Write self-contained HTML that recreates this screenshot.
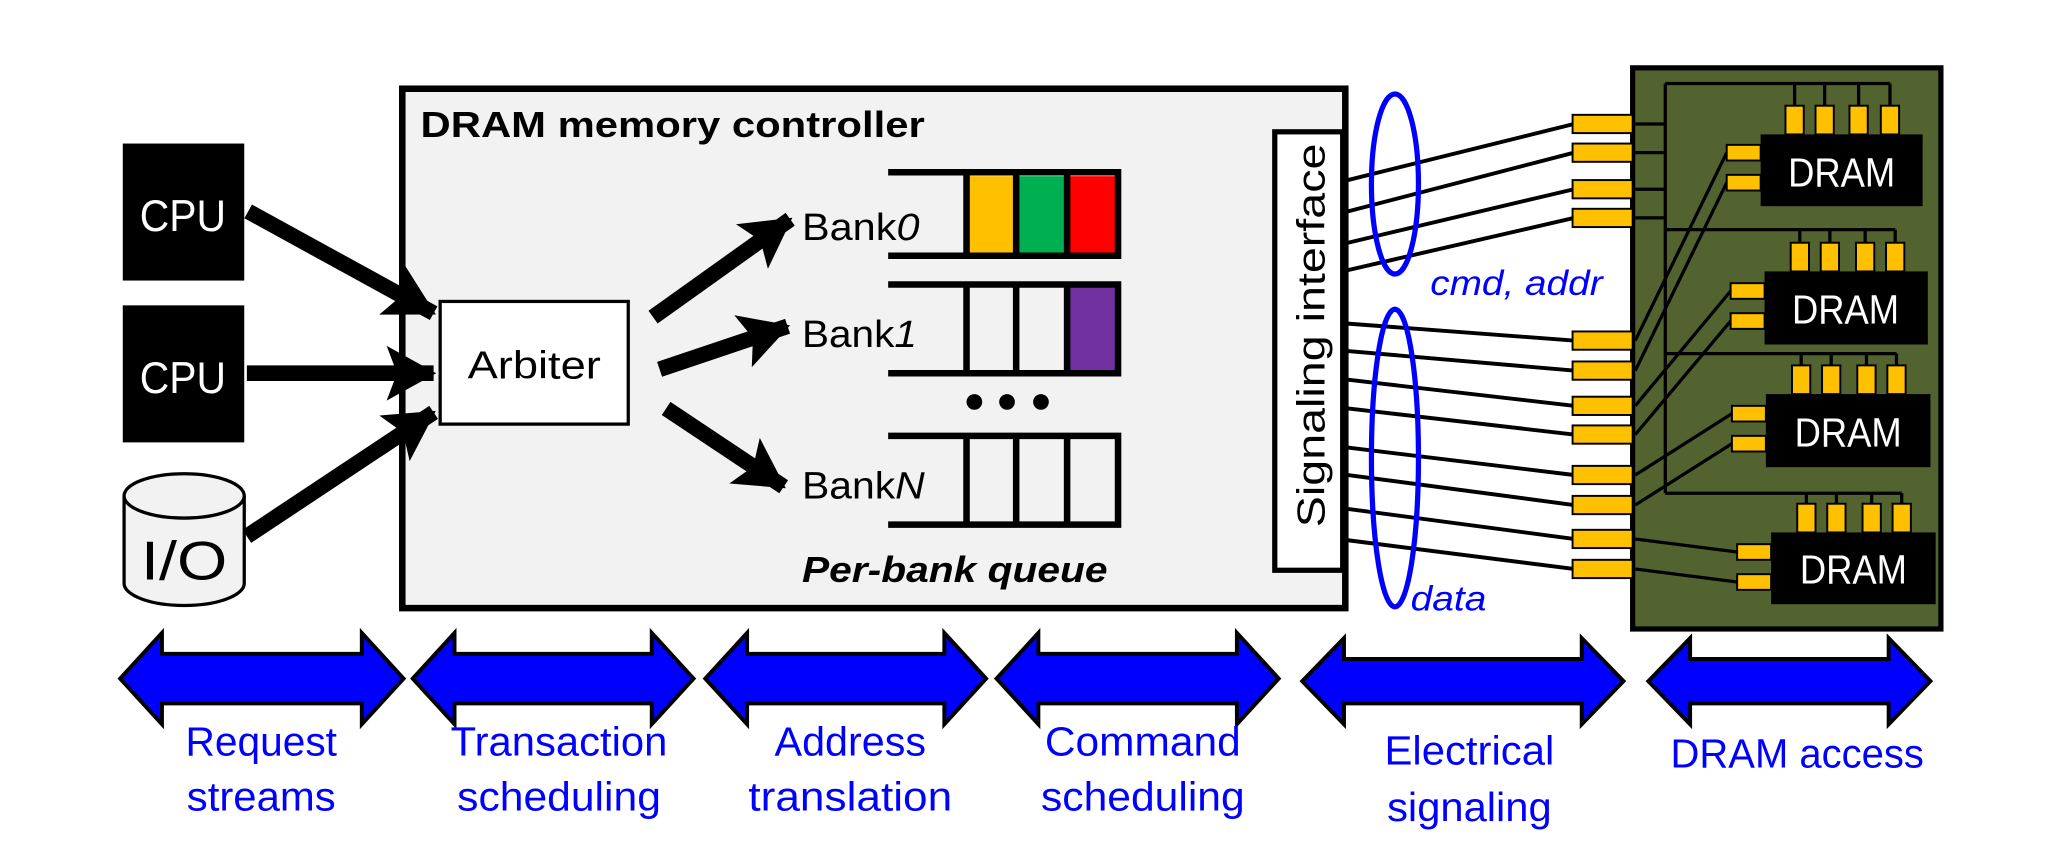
<!DOCTYPE html>
<html><head><meta charset="utf-8"><style>html,body{margin:0;padding:0;background:#fff}svg{display:block}</style></head>
<body>
<svg width="2048" height="843" viewBox="0 0 1568 646" preserveAspectRatio="none" xmlns="http://www.w3.org/2000/svg" font-family="Liberation Sans, sans-serif">
<defs>
<marker id="ah" markerUnits="userSpaceOnUse" markerWidth="40" markerHeight="42" refX="36" refY="21" orient="auto" viewBox="0 0 40 42">
<path d="M0,0 L38,21 L0,42 L8,21 Z" fill="#000"/>
</marker>
</defs>
<rect width="1568" height="646" fill="#fff"/>
<rect x="94" y="110" width="93" height="105" fill="#000"/>
<text x="140" y="177" font-size="34" fill="#fff" text-anchor="middle" textLength="66" lengthAdjust="spacingAndGlyphs">CPU</text>
<rect x="94" y="234" width="93" height="105" fill="#000"/>
<text x="140" y="301" font-size="34" fill="#fff" text-anchor="middle" textLength="66" lengthAdjust="spacingAndGlyphs">CPU</text>
<path d="M95,380 L95,447 A46,17 0 0 0 187,447 L187,380" fill="#f2f2f2" stroke="#000" stroke-width="2.5"/>
<ellipse cx="141" cy="380" rx="46" ry="17" fill="#f2f2f2" stroke="#000" stroke-width="2.5"/>
<text x="141" y="444" font-size="42" fill="#000" text-anchor="middle" textLength="66" lengthAdjust="spacingAndGlyphs">I/O</text>
<rect x="308" y="68" width="722" height="398" fill="#f2f2f2" stroke="#000" stroke-width="5"/>
<text x="322" y="105" font-size="28" font-weight="bold" textLength="386" lengthAdjust="spacingAndGlyphs">DRAM memory controller</text>
<rect x="337" y="231" width="144" height="94" fill="#fff" stroke="#000" stroke-width="2.5"/>
<text x="409" y="290" font-size="30" text-anchor="middle" textLength="102" lengthAdjust="spacingAndGlyphs">Arbiter</text>
<g stroke="#000" stroke-width="12" marker-end="url(#ah)">
<line x1="190" y1="162" x2="332" y2="240"/>
<line x1="189" y1="286" x2="332" y2="286"/>
<line x1="189" y1="411" x2="332" y2="316"/>
<line x1="500" y1="243" x2="605" y2="168"/>
<line x1="505" y1="283" x2="603" y2="250"/>
<line x1="510" y1="313" x2="600" y2="373"/>
</g>
<g font-size="29">
<text x="614" y="184" textLength="90" lengthAdjust="spacingAndGlyphs">Bank<tspan font-style="italic">0</tspan></text>
<text x="614" y="266" textLength="88" lengthAdjust="spacingAndGlyphs">Bank<tspan font-style="italic">1</tspan></text>
<text x="614" y="382" textLength="94" lengthAdjust="spacingAndGlyphs">Bank<tspan font-style="italic">N</tspan></text>
</g>
<rect x="740" y="135" width="36" height="60" fill="#ffc000"/>
<rect x="779" y="135" width="36" height="60" fill="#00b050"/>
<rect x="818" y="135" width="36" height="60" fill="#ff0000"/>
<rect x="818" y="220" width="36" height="64" fill="#7030a0"/>
<g stroke="#000" stroke-width="5" fill="none">
<path d="M680,132 H856 V196 H680"/>
<path d="M740,132 V196 M778,132 V196 M817,132 V196"/>
<path d="M680,218 H856 V286 H680"/>
<path d="M740,218 V286 M778,218 V286 M817,218 V286"/>
<path d="M680,334 H856 V402 H680"/>
<path d="M740,334 V402 M778,334 V402 M817,334 V402"/>
</g>
<circle cx="746" cy="308" r="6"/><circle cx="771" cy="308" r="6"/><circle cx="797" cy="308" r="6"/>
<text x="614" y="446" font-size="28" font-weight="bold" font-style="italic" textLength="234" lengthAdjust="spacingAndGlyphs">Per-bank queue</text>
<rect x="976" y="101" width="52" height="336" fill="#fff" stroke="#000" stroke-width="4"/>
<text transform="translate(1014,404) rotate(-90)" font-size="30" textLength="294" lengthAdjust="spacingAndGlyphs">Signaling interface</text>
<g stroke="#000" stroke-width="3" fill="none">
<line x1="1032" y1="138" x2="1205" y2="95"/>
<line x1="1032" y1="162" x2="1205" y2="117"/>
<line x1="1032" y1="186" x2="1205" y2="145"/>
<line x1="1032" y1="207" x2="1205" y2="167"/>
<line x1="1032" y1="248" x2="1205" y2="261"/>
<line x1="1032" y1="269" x2="1205" y2="284"/>
<line x1="1032" y1="291" x2="1205" y2="311"/>
<line x1="1032" y1="313" x2="1205" y2="333"/>
<line x1="1032" y1="343" x2="1205" y2="364"/>
<line x1="1032" y1="364" x2="1205" y2="387"/>
<line x1="1032" y1="390" x2="1205" y2="413"/>
<line x1="1032" y1="414" x2="1205" y2="436"/>
</g>
<ellipse cx="1068" cy="141" rx="18" ry="69" fill="none" stroke="#0000ff" stroke-width="4"/>
<ellipse cx="1068" cy="351" rx="18" ry="114" fill="none" stroke="#0000ff" stroke-width="4"/>
<text x="1095" y="226" font-size="27" font-style="italic" fill="#0000ff" textLength="132" lengthAdjust="spacingAndGlyphs">cmd, addr</text>
<text x="1080" y="468" font-size="27" font-style="italic" fill="#0000ff" textLength="58" lengthAdjust="spacingAndGlyphs">data</text>
<rect x="1250" y="52" width="236" height="430" fill="#536330" stroke="#000" stroke-width="4"/>
<g fill="#ffc000" stroke="#000" stroke-width="1.5">
<rect x="1204" y="88" width="46" height="14"/><rect x="1204" y="110" width="46" height="14"/>
<rect x="1204" y="138" width="46" height="14"/><rect x="1204" y="160" width="46" height="14"/>
<rect x="1204" y="254" width="46" height="14"/><rect x="1204" y="277" width="46" height="14"/>
<rect x="1204" y="304" width="46" height="14"/><rect x="1204" y="326" width="46" height="14"/>
<rect x="1204" y="357" width="46" height="14"/><rect x="1204" y="380" width="46" height="14"/>
<rect x="1204" y="406" width="46" height="14"/><rect x="1204" y="429" width="46" height="14"/>
</g>
<g stroke="#000" stroke-width="2.5" fill="none">
<path d="M1275,64 V378"/>
<path d="M1252,95 H1275 M1252,117 H1275 M1252,145 H1275 M1252,167 H1275"/>
<path d="M1275,64 H1447 M1275,176 H1451 M1275,271 H1452 M1275,378 H1456"/>
<path d="M1374,64 V82 M1397,64 V82 M1423,64 V82 M1447,64 V82"/>
<path d="M1378,176 V187 M1401,176 V187 M1428,176 V187 M1451,176 V187"/>
<path d="M1379,271 V281 M1402,271 V281 M1429,271 V281 M1452,271 V281"/>
<path d="M1383,378 V387 M1406,378 V387 M1433,378 V387 M1456,378 V387"/>
<line x1="1252" y1="261" x2="1322" y2="117"/>
<line x1="1252" y1="284" x2="1322" y2="140"/>
<line x1="1252" y1="311" x2="1325" y2="223"/>
<line x1="1252" y1="333" x2="1325" y2="246"/>
<line x1="1252" y1="364" x2="1326" y2="317"/>
<line x1="1252" y1="387" x2="1326" y2="340"/>
<line x1="1252" y1="413" x2="1330" y2="423"/>
<line x1="1252" y1="436" x2="1330" y2="446"/>
</g>
<g fill="#ffc000" stroke="#000" stroke-width="1.5">
<rect x="1367" y="81" width="14" height="22"/><rect x="1390" y="81" width="14" height="22"/><rect x="1416" y="81" width="14" height="22"/><rect x="1440" y="81" width="14" height="22"/>
<rect x="1371" y="186" width="14" height="22"/><rect x="1394" y="186" width="14" height="22"/><rect x="1421" y="186" width="14" height="22"/><rect x="1444" y="186" width="14" height="22"/>
<rect x="1372" y="280" width="14" height="22"/><rect x="1395" y="280" width="14" height="22"/><rect x="1422" y="280" width="14" height="22"/><rect x="1445" y="280" width="14" height="22"/>
<rect x="1376" y="386" width="14" height="22"/><rect x="1399" y="386" width="14" height="22"/><rect x="1426" y="386" width="14" height="22"/><rect x="1449" y="386" width="14" height="22"/>
<rect x="1322" y="111" width="26" height="12"/><rect x="1322" y="134" width="26" height="12"/>
<rect x="1325" y="217" width="26" height="12"/><rect x="1325" y="240" width="26" height="12"/>
<rect x="1326" y="311" width="26" height="12"/><rect x="1326" y="334" width="26" height="12"/>
<rect x="1330" y="417" width="26" height="12"/><rect x="1330" y="440" width="26" height="12"/>
</g>
<g fill="#000">
<rect x="1348" y="103" width="124" height="55"/>
<rect x="1351" y="208" width="125" height="56"/>
<rect x="1352" y="302" width="126" height="56"/>
<rect x="1356" y="408" width="126" height="55"/>
</g>
<g fill="#fff" font-size="31" text-anchor="middle">
<text x="1410" y="143" textLength="82" lengthAdjust="spacingAndGlyphs">DRAM</text>
<text x="1413" y="248" textLength="82" lengthAdjust="spacingAndGlyphs">DRAM</text>
<text x="1415" y="342" textLength="82" lengthAdjust="spacingAndGlyphs">DRAM</text>
<text x="1419" y="447" textLength="82" lengthAdjust="spacingAndGlyphs">DRAM</text>
</g>
<g fill="#0000ff" stroke="#000" stroke-width="3" stroke-linejoin="miter">
<path d="M92,520 L124,485 V501 H277 V485 L309,520 L277,555 V539 H124 V555 Z"/>
<path d="M316,520 L348,485 V501 H499 V485 L531,520 L499,555 V539 H348 V555 Z"/>
<path d="M540,520 L572,485 V501 H723 V485 L755,520 L723,555 V539 H572 V555 Z"/>
<path d="M763,520 L795,485 V501 H947 V485 L979,520 L947,555 V539 H795 V555 Z"/>
<path d="M997,522 L1029,489 V505 H1211 V489 L1243,522 L1211,555 V539 H1029 V555 Z"/>
<path d="M1262,522 L1294,489 V505 H1446 V489 L1478,522 L1446,555 V539 H1294 V555 Z"/>
</g>
<g fill="#0000ff" font-size="31" text-anchor="middle">
<text x="200" y="579" textLength="116" lengthAdjust="spacingAndGlyphs">Request</text>
<text x="200" y="621" textLength="114" lengthAdjust="spacingAndGlyphs">streams</text>
<text x="428" y="579" textLength="166" lengthAdjust="spacingAndGlyphs">Transaction</text>
<text x="428" y="621" textLength="156" lengthAdjust="spacingAndGlyphs">scheduling</text>
<text x="651" y="579" textLength="116" lengthAdjust="spacingAndGlyphs">Address</text>
<text x="651" y="621" textLength="156" lengthAdjust="spacingAndGlyphs">translation</text>
<text x="875" y="579" textLength="150" lengthAdjust="spacingAndGlyphs">Command</text>
<text x="875" y="621" textLength="156" lengthAdjust="spacingAndGlyphs">scheduling</text>
<text x="1125" y="586" textLength="130" lengthAdjust="spacingAndGlyphs">Electrical</text>
<text x="1125" y="629" textLength="126" lengthAdjust="spacingAndGlyphs">signaling</text>
<text x="1376" y="588" textLength="194" lengthAdjust="spacingAndGlyphs">DRAM access</text>
</g>
</svg>
</body></html>
